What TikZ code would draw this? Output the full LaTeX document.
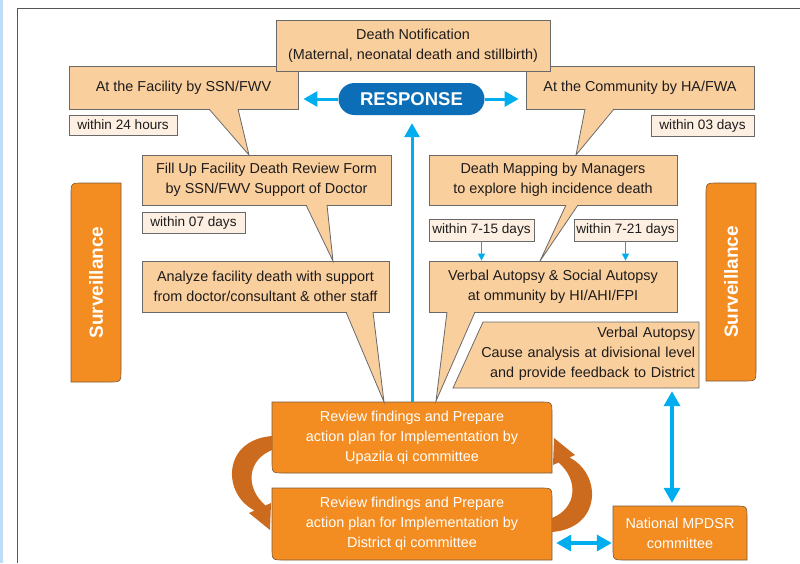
\documentclass[tikz,border=0pt]{standalone}
\usepackage{fontspec}
\setmainfont{Liberation Sans}
\usetikzlibrary{arrows.meta}
\definecolor{peach}{RGB}{250,207,158}
\definecolor{wfill}{RGB}{253,240,226}
\definecolor{bd}{RGB}{105,105,105}
\definecolor{txt}{RGB}{30,28,28}
\definecolor{orng}{RGB}{243,140,33}
\definecolor{obd}{RGB}{120,90,60}
\definecolor{darr}{RGB}{204,106,30}
\definecolor{cyanb}{RGB}{0,174,239}
\definecolor{pill}{RGB}{11,110,183}
\definecolor{frame}{RGB}{85,85,85}
\definecolor{strip}{RGB}{190,220,245}
\newcommand\myfs{\fontsize{14.4}{20}\selectfont}
\newcommand\myfw{\fontsize{13.6}{16}\selectfont}
\begin{document}
\begin{tikzpicture}[x=1pt,y=-1pt,
  callout/.style={draw=bd, fill=peach, line width=0.8pt, inner sep=0pt, align=center, text=txt, font=\myfs},
  within/.style={draw=bd, fill=wfill, line width=0.8pt, inner sep=0pt, text=txt, font=\myfw},
  tailline/.style={draw=bd, line width=0.8pt},
  obox/.style={fill=orng, draw=obd, line width=0.6pt},
  otext/.style={inner sep=0pt, align=center, text=white, font=\myfs},
  stext/.style={inner sep=0pt, text=white, font=\fontsize{19}{22}\selectfont\bfseries, rotate=90},
  barrow/.style={draw=cyanb, line width=3pt, -{Triangle[width=15pt,length=14pt]}},
  sarrow/.style={draw=cyanb, line width=1.2pt, -{Triangle[width=7pt,length=7pt]}},
  dblarrow/.style={draw=cyanb, line width=3.5pt, {Triangle[width=16pt,length=15pt]}-{Triangle[width=16pt,length=15pt]}},
  curl/.style={fill=darr}]
\useasboundingbox (0,0) rectangle (800,563);
% page background elements
\fill[strip] (0,0) rectangle (2.5,563);
\draw[frame, line width=1.2pt] (17.5,563) -- (17.5,8.5) -- (800,8.5);

% surveillance bars
\draw[obox] (71,382) -- (71,195) .. controls (71,183) .. (83,183) -- (121,183) -- (121,370) .. controls (121,382) .. (109,382) -- cycle;
\node[stext] (survl) at (96,282.5) {Surveillance};
\draw[obox] (706,381) -- (706,195) .. controls (706,183) .. (718,183) -- (756,183) -- (756,369) .. controls (756,381) .. (744,381) -- cycle;
\node[stext] (survr) at (731,282) {Surveillance};

% callout boxes
\node[callout, minimum width=229pt, minimum height=43pt] (fac) at (183.5,87.5) {At the Facility by SSN/FWV};
\node[callout, minimum width=228pt, minimum height=43pt] (comm) at (640,87.5) {At the Community by HA/FWA};
\node[callout, minimum width=274pt, minimum height=51pt] (notif) at (413,45.5) {Death Notification\\(Maternal, neonatal death and stillbirth)};
\node[within, minimum width=108pt, minimum height=20pt] (w24) at (123,125) {within 24 hours};
\node[within, minimum width=103pt, minimum height=21pt] (w03) at (702.5,126) {within 03 days};
\node[callout, minimum width=249pt, minimum height=50pt] (fill) at (266.5,180) {Fill Up Facility Death Review Form\\by SSN/FWV Support of Doctor};
\node[within, minimum width=103pt, minimum height=21pt] (w07) at (193.5,222.5) {within 07 days};
\node[callout, minimum width=247pt, minimum height=51pt] (anal) at (265.5,286.5) {Analyze facility death with support\\from doctor/consultant \& other staff};
\node[callout, minimum width=248pt, minimum height=50pt] (map) at (553,180) {Death Mapping by Managers\\to explore high incidence death};
\node[within, minimum width=105pt, minimum height=22pt] (w715) at (481.5,230) {within 7-15 days};
\node[within, minimum width=103pt, minimum height=22pt] (w721) at (625.5,230) {within 7-21 days};
\node[callout, minimum width=248pt, minimum height=51pt] (vas) at (553,286.5) {Verbal Autopsy \& Social Autopsy\\at ommunity by HI/AHI/FPI};
\draw[tailline, fill=peach] (483,322) -- (699,322) -- (699,388) -- (453,388) -- cycle;
\node[inner sep=0pt, minimum width=246pt, minimum height=66pt, text width=238pt, align=right, text=txt, font=\myfs] (va) at (576,354) {Verbal Autopsy\\Cause analysis at divisional level\\and provide feedback to District};

% orange committee boxes
\draw[obox] (272,402) -- (540,402) .. controls (552,402) .. (552,414) -- (552,473) -- (284,473) .. controls (272,473) .. (272,461) -- cycle;
\node[otext, minimum width=280pt, minimum height=71pt] (rv1) at (412,437.5) {Review findings and Prepare\\action plan for Implementation by\\Upazila qi committee};
\draw[obox] (272,488) -- (540,488) .. controls (552,488) .. (552,500) -- (552,560) -- (284,560) .. controls (272,560) .. (272,548) -- cycle;
\node[otext, minimum width=280pt, minimum height=72pt] (rv2) at (412,524) {Review findings and Prepare\\action plan for Implementation by\\District qi committee};
\draw[obox] (613,506) -- (735,506) .. controls (747,506) .. (747,518) -- (747,560) -- (625,560) .. controls (613,560) .. (613,548) -- cycle;
\node[otext, minimum width=134pt, minimum height=54pt] (nat) at (680,533) {National MPDSR\\committee};

% callout tails
\fill[peach] (209,108.2) -- (249,155) -- (238,108.2) -- cycle;
\draw[tailline] (209,109) -- (249,155) -- (238,109);
\fill[peach] (585,108.2) -- (576,155) -- (614,108.2) -- cycle;
\draw[tailline] (585,109) -- (576,155) -- (614,109);
\fill[peach] (306,204.2) -- (333,261) -- (327,204.2) -- cycle;
\draw[tailline] (306,205) -- (333,261) -- (327,205);
\fill[peach] (566,204.2) -- (540,261) -- (578,204.2) -- cycle;
\draw[tailline] (566,205) -- (540,261) -- (578,205);
\fill[peach] (346,311.2) -- (384,402) -- (373,311.2) -- cycle;
\draw[tailline] (346,312) -- (384,402) -- (373,312);
\fill[peach] (447,311.2) -- (436,401) -- (475,311.2) -- cycle;
\draw[tailline] (447,312) -- (436,401) -- (475,312);

% RESPONSE
\node[fill=pill, rounded corners=16pt, minimum width=146pt, minimum height=32pt, inner sep=0pt, text=white, font=\fontsize{18.5}{20}\selectfont\bfseries] (resp) at (411.5,99) {RESPONSE};
\draw[barrow, shorten >=5pt] (resp.west) -- (resp.west -| fac.east);
\draw[barrow, shorten >=7pt] (resp.east) -- (resp.east -| comm.west);
\draw[barrow, shorten >=8pt] (rv1.north) -- (rv1.north |- resp.south);

% small arrows
\draw[sarrow] (w715.south) -- (w715.south |- vas.north);
\draw[sarrow] (w721.south) -- (w721.south |- vas.north);

% double arrows
\draw[dblarrow, shorten <=4pt, shorten >=3pt] ([xshift=96pt]va.south) -- ([xshift=-8pt]nat.north);
\draw[dblarrow, shorten <=4pt, shorten >=1pt] ([yshift=-19pt]rv2.east) -- ([yshift=-10pt]nat.west);

% curved arrows
\fill[curl] (272,436) .. controls (222,440) and (222,494) .. (254.5,510.5) -- (249,513) -- (270,530) -- (271,503) -- (265.5,505.5) .. controls (245,488) and (247,460) .. (272,450) -- cycle;
\fill[curl] (552,532) .. controls (602,528) and (602,474) .. (569.5,457.5) -- (575,455) -- (554,438) -- (553,465) -- (558.5,462.5) .. controls (579,480) and (577,508) .. (552,518) -- cycle;
\end{tikzpicture}
\end{document}
